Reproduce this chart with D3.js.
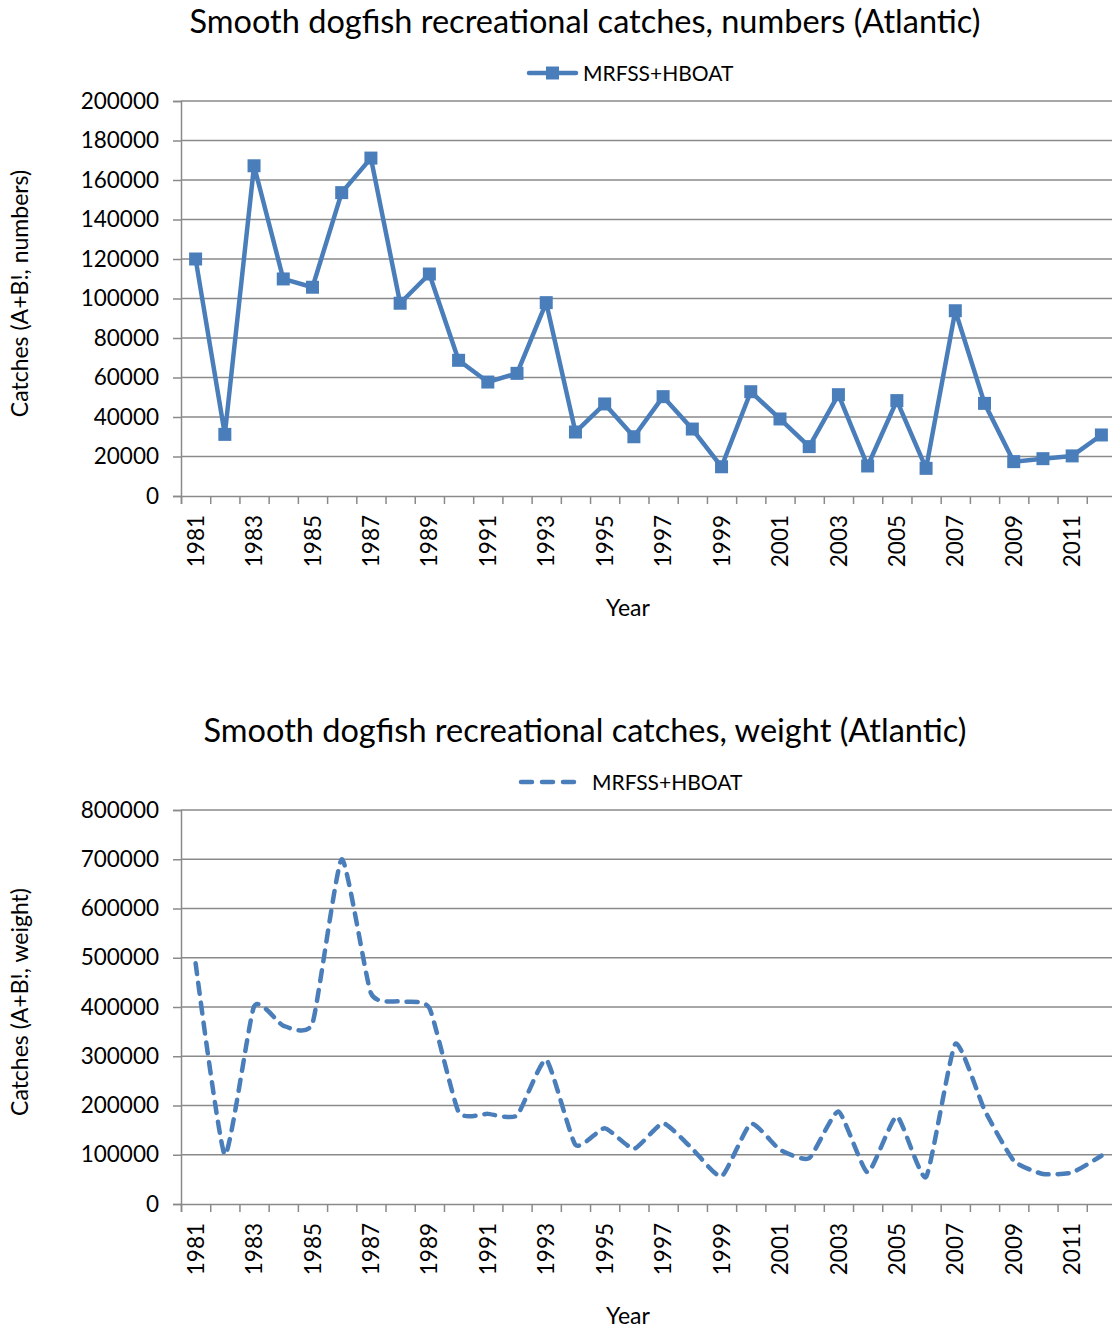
<!DOCTYPE html>
<html>
<head>
<meta charset="utf-8">
<script src="https://cdn.jsdelivr.net/npm/d3@7"></script>
<style>
  body { margin: 0; background: #fff; }
  svg { display: block; font-family: Lato, "Open Sans", sans-serif; }
</style>
</head>
<body>
<svg width="1112" height="1330"></svg>
<script>
// data
const years = d3.range(1981, 2013)
const numbers = [120000, 31200, 167200, 109900, 105700, 153600, 171100, 97600, 112400, 68700,
  57700, 62100, 97900, 32400, 46600, 30000, 50300, 33900, 14800, 52800,
  39000, 25000, 51300, 15200, 48300, 14000, 93800, 46900, 17400, 18900, 20300, 30900]
const weight = [489000, 100000, 401000, 362000, 367000, 700000, 428000, 411000, 398000, 187000,
  183000, 180000, 293000, 120000, 154000, 112000, 164000, 112000, 56000, 163000,
  110000, 93000, 188000, 64000, 178000, 55000, 325000, 191000, 88000, 61000, 64000, 98000]
const numberTicks = d3.range(0, 200001, 20000)
const weightTicks = d3.range(0, 800001, 100000)
const labelYears = years.filter(y => (y - 1981) % 2 === 0)

const blue = '#4a7ebb'
const grid = '#8a8a8a'
const svg = d3.select('svg')

function drawChart(opts) {
  const { top, bottom, values, ticks, yMax, title, titleY, yTitle, legendY, dashed } = opts
  const left = 181, right = 1116
  const g = svg.append('g')

  const x = d3.scaleBand().domain(years).range([left, right])
  const xi = d3.scaleLinear().domain([0, years.length]).range([left, right])
  const y = d3.scaleLinear().domain([0, yMax]).range([bottom, top])
  const cx = d => x(d) + x.bandwidth() / 2

  // horizontal gridlines
  g.append('g').selectAll('line').data(ticks.filter(t => t > 0)).join('line')
    .attr('x1', left).attr('x2', right)
    .attr('y1', d => y(d)).attr('y2', d => y(d))
    .attr('stroke', grid).attr('stroke-width', 1.5)

  // y axis
  const ya = g.append('g').attr('transform', `translate(${left},0)`)
    .call(d3.axisLeft(y).tickValues(ticks).tickSize(8).tickPadding(14).tickFormat(d3.format('d')))
  ya.select('.domain').attr('stroke', grid).attr('stroke-width', 1.5)
  ya.selectAll('.tick line').attr('stroke', grid).attr('stroke-width', 1.5)
  ya.selectAll('.tick text').attr('font-size', 22.5).attr('fill', '#000')
    .attr('font-family', 'Lato, sans-serif')

  // x axis: tick marks between categories
  const xa = g.append('g').attr('transform', `translate(0,${bottom})`)
    .call(d3.axisBottom(xi).tickValues(d3.range(0, years.length + 1)).tickSize(8).tickFormat(''))
  xa.select('.domain').attr('stroke', grid).attr('stroke-width', 1.5)
  xa.selectAll('.tick line').attr('stroke', grid).attr('stroke-width', 1.5)

  // x labels, rotated
  g.append('g').selectAll('text').data(labelYears).join('text')
    .attr('transform', d => `translate(${cx(d)},${bottom + 19}) rotate(-90)`)
    .attr('text-anchor', 'end').attr('dy', '0.36em')
    .attr('font-size', 22.5).text(d => d)

  // series
  const line = d3.line().x((d, i) => cx(years[i])).y(d => y(d))
  if (dashed) line.curve(d3.curveCardinal.tension(0.5))
  const path = g.append('path').datum(values)
    .attr('d', line).attr('fill', 'none').attr('stroke', blue)
    .attr('stroke-width', 4.5).attr('stroke-linejoin', 'round')
  if (dashed) path.attr('stroke-dasharray', '11 9').attr('stroke-linecap', 'round')
  else {
    g.append('g').selectAll('rect').data(values).join('rect')
      .attr('x', (d, i) => cx(years[i]) - 6.5).attr('y', d => y(d) - 6.5)
      .attr('width', 13).attr('height', 13).attr('fill', blue)
  }

  // title
  svg.append('text').attr('x', 585).attr('y', titleY).attr('text-anchor', 'middle')
    .attr('font-size', 32.5).text(title)

  // legend
  const lg = svg.append('g')
  if (dashed) {
    lg.append('line').attr('x1', 521).attr('x2', 578).attr('y1', legendY).attr('y2', legendY)
      .attr('stroke', blue).attr('stroke-width', 4.5).attr('stroke-linecap', 'round')
      .attr('stroke-dasharray', '11 10')
    lg.append('text').attr('x', 592).attr('y', legendY).attr('dy', '0.36em')
      .attr('font-size', 21).text('MRFSS+HBOAT')
  } else {
    lg.append('line').attr('x1', 529).attr('x2', 576).attr('y1', legendY).attr('y2', legendY)
      .attr('stroke', blue).attr('stroke-width', 4.5).attr('stroke-linecap', 'round')
    lg.append('rect').attr('x', 546).attr('y', legendY - 6.5).attr('width', 13).attr('height', 13)
      .attr('fill', blue)
    lg.append('text').attr('x', 583).attr('y', legendY).attr('dy', '0.36em')
      .attr('font-size', 21).text('MRFSS+HBOAT')
  }

  // axis titles
  svg.append('text').attr('transform', `translate(20,${(top + bottom) / 2 - 5}) rotate(-90)`)
    .attr('text-anchor', 'middle').attr('dy', '0.36em').attr('font-size', 23).text(yTitle)
  svg.append('text').attr('x', 628).attr('y', bottom + 112).attr('dy', '0.36em')
    .attr('text-anchor', 'middle').attr('font-size', 23).text('Year')
}

drawChart({
  top: 101, bottom: 496, values: numbers, ticks: numberTicks, yMax: 200000,
  title: 'Smooth dogfish recreational catches, numbers (Atlantic)', titleY: 33,
  yTitle: 'Catches (A+B!,  numbers)', legendY: 73, dashed: false
})
drawChart({
  top: 810, bottom: 1204, values: weight, ticks: weightTicks, yMax: 800000,
  title: 'Smooth dogfish recreational catches, weight (Atlantic)', titleY: 742,
  yTitle: 'Catches (A+B!, weight)', legendY: 782, dashed: true
})
</script>
</body>
</html>
